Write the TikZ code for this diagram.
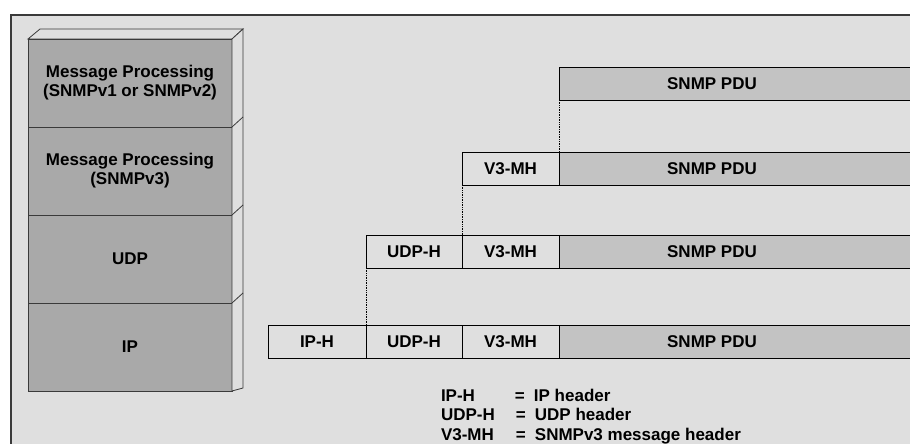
\documentclass[tikz,border=0pt]{standalone}
\usepackage{fontspec}
\setmainfont{Liberation Sans}
\usetikzlibrary{positioning}
\definecolor{panel}{HTML}{DFDFDF}
\definecolor{layer}{HTML}{A9A9A9}
\definecolor{pdufill}{HTML}{C3C3C3}
\definecolor{edge}{HTML}{3A3A3A}

\begin{document}
\begin{tikzpicture}[x=1pt,y=-1pt,line width=0.8pt,
  every node/.style={font=\bfseries\fontsize{17}{19}\selectfont,outer sep=0pt,inner sep=0pt},
  layerbox/.style={rectangle,draw=edge,fill=layer,minimum width=204,minimum height=88,align=center},
  hdr/.style={rectangle,draw=black,fill=panel,minimum height=33},
  pdu/.style={rectangle,draw=black,fill=pdufill,minimum height=33,minimum width=380},
  link/.style={densely dotted,line width=0.7pt}]
\clip (0,0) rectangle (910,444);
\fill[white] (0,0) rectangle (910,444);
\draw[edge,fill=panel,line width=1.3pt] (11,15) rectangle (940,470);

\node[layerbox] (mpv12) at (130,83) {Message Processing\\(SNMPv1 or SNMPv2)};
\node[layerbox,below=0pt of mpv12] (mpv3) {Message Processing\\(SNMPv3)};
\node[layerbox,below=0pt of mpv3] (udp) {UDP};
\node[layerbox,below=0pt of udp] (ip) {IP};
\draw[edge,fill=panel] (mpv12.north west) -- ++(12,-10) -- ++(203,0) -- (mpv12.north east) -- cycle;
\draw[edge,fill=panel] (mpv12.north east) -- ++(11,-10) -- ++(0,359) -- (ip.south east) -- cycle;
\foreach \n in {mpv3,udp,ip}
  \draw[edge] (\n.north east) -- ++(11,-10);

\node[pdu,anchor=west,label={[xshift=-37]center:SNMP PDU}] (pdu1) at (559,83.5) {};

\node[hdr,minimum width=97] (v3mh2) at (510.5,168.5) {V3-MH};
\node[pdu,right=0pt of v3mh2,label={[xshift=-37]center:SNMP PDU}] (pdu2) {};

\node[hdr,minimum width=96] (udph3) at (414,251.5) {UDP-H};
\node[hdr,minimum width=97,right=0pt of udph3] (v3mh3) {V3-MH};
\node[pdu,right=0pt of v3mh3,label={[xshift=-37]center:SNMP PDU}] (pdu3) {};

\node[hdr,minimum width=98] (iph) at (317,341.5) {IP-H};
\node[hdr,minimum width=96,right=0pt of iph] (udph4) {UDP-H};
\node[hdr,minimum width=97,right=0pt of udph4] (v3mh4) {V3-MH};
\node[pdu,right=0pt of v3mh4,label={[xshift=-37]center:SNMP PDU}] (pdu4) {};

\draw[link] (pdu1.south west) -- (pdu2.north west);
\draw[link] (v3mh2.south west) -- (v3mh3.north west);
\draw[link] (udph3.south west) -- (udph4.north west);

\node[anchor=base west] (legip) at (441,401) {\makebox[74pt][l]{IP-H}=\hspace{9pt}IP header};
\node[anchor=base west] (legudp) at (441,420.5) {\makebox[75pt][l]{UDP-H}=\hspace{9pt}UDP header};
\node[anchor=base west] (legv3) at (441,440) {\makebox[75pt][l]{V3-MH}=\hspace{9pt}SNMPv3 message header};
\end{tikzpicture}
\end{document}
